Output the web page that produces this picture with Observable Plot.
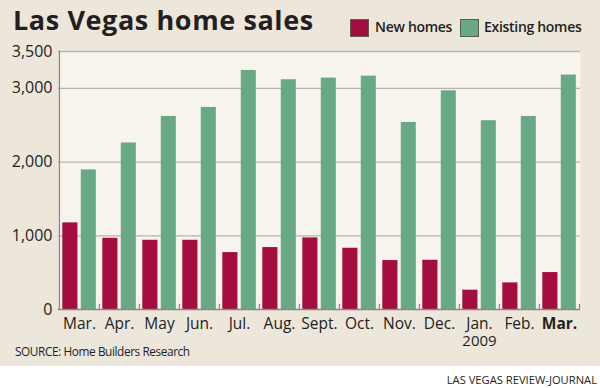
<!DOCTYPE html>
<html>
<head>
<meta charset="utf-8">
<script src="https://cdn.jsdelivr.net/npm/d3@7"></script>
<script src="https://cdn.jsdelivr.net/npm/@observablehq/plot@0.6"></script>
<style>
  html, body { margin: 0; padding: 0; background: #ffffff; }
  #wrap { position: relative; width: 600px; height: 388px; background: #ffffff; font-family: "Open Sans", sans-serif; color: #231f20; overflow: hidden; }
  #panel { position: absolute; left: 0; top: 0; width: 600px; height: 366px; background: #ece6db; }
  #title { position: absolute; left: 13px; top: 2px; font-size: 27px; font-weight: 700; letter-spacing: 0.6px; line-height: 36px; white-space: nowrap; }
  .sw { position: absolute; top: 19px; width: 17px; height: 16px; border: 1px solid #5d5a55; }
  .lab { position: absolute; top: 18px; font-size: 14px; font-weight: 600; letter-spacing: -0.3px; line-height: 18px; white-space: nowrap; }
  #chart { position: absolute; left: 0; top: 44px; }
  #source { position: absolute; left: 15px; top: 343px; font-size: 11.8px; letter-spacing: -0.4px; line-height: 16px; white-space: nowrap; }
  #credit { position: absolute; right: 3px; top: 372px; font-size: 11.2px; line-height: 16px; white-space: nowrap; }
</style>
</head>
<body>
<div id="wrap">
  <div id="panel"></div>
  <div id="title">Las Vegas home sales</div>
  <div id="legend"></div>
  <div id="chart"></div>
  <div id="source">SOURCE: Home Builders Research</div>
  <div id="credit">LAS VEGAS REVIEW-JOURNAL</div>
</div>
<script>
const months = ["Mar.", "Apr.", "May", "Jun.", "Jul.", "Aug.", "Sept.", "Oct.", "Nov.", "Dec.", "Jan.", "Feb.", "Mar."];
const years = ["", "", "", "", "", "", "", "", "", "", "2009", "", ""];
const newHomes = [1175, 966, 939, 939, 772, 840, 971, 831, 664, 668, 262, 361, 501];
const existingHomes = [1893, 2259, 2619, 2741, 3243, 3117, 3139, 3166, 2538, 2967, 2561, 2619, 3180];
const seriesNames = ["New homes", "Existing homes"];
const seriesColors = ["#a30d3f", "#68a884"];
const yTicks = [0, 1000, 2000, 3000, 3500];
const gridTicks = [1000, 2000, 3000];
const yMax = 3500;

const idx = months.map((_, i) => i);
const newData = idx.map(i => ({i, value: newHomes[i]}));
const existingData = idx.map(i => ({i, value: existingHomes[i]}));
const yearData = idx.filter(i => years[i]).map(i => ({i, year: years[i]}));

const W = 600, H = 300, mL = 58, mR = 20, mT = 7, mB = 35;
const step = (W - mL - mR) / months.length;
const gray = "#8c8780";

const legend = document.getElementById("legend");
const legendLeft = [[350, 375], [460, 484]];
seriesNames.forEach((name, k) => {
  const sw = document.createElement("span");
  sw.className = "sw";
  sw.style.background = seriesColors[k];
  sw.style.left = legendLeft[k][0] + "px";
  const lab = document.createElement("span");
  lab.className = "lab";
  lab.textContent = name;
  lab.style.left = legendLeft[k][1] + "px";
  legend.appendChild(sw);
  legend.appendChild(lab);
});

const chart = Plot.plot({
  width: W,
  height: H,
  marginLeft: mL,
  marginRight: mR,
  marginTop: mT,
  marginBottom: mB,
  style: {fontFamily: "Open Sans, sans-serif", fontSize: "16px", color: "#231f20", background: "transparent", overflow: "visible"},
  x: {type: "band", domain: idx, padding: 0},
  y: {domain: [0, yMax]},
  marks: [
    Plot.frame({fill: "#f7f4ee", stroke: "none"}),
    Plot.ruleY(gridTicks, {stroke: "#b9b4ab", strokeWidth: 1.3}),
    Plot.barY(newData, {x: "i", y: "value", fill: seriesColors[0], insetLeft: 3.3, insetRight: step - 18.6}),
    Plot.barY(existingData, {x: "i", y: "value", fill: seriesColors[1], insetLeft: 21.8, insetRight: 3.2}),
    Plot.ruleY([yMax], {stroke: "#b9b4ab", strokeWidth: 1.3}),
    Plot.ruleY([0], {stroke: gray, strokeWidth: 1.3}),
    Plot.ruleX([0], {x: d => d, dx: -step / 2, y1: 0, y2: yMax, stroke: gray, strokeWidth: 1.3}),
    Plot.ruleX(idx.slice(1), {x: d => d, dx: -step / 2, y1: 0, y2: 70, stroke: gray, strokeWidth: 1.3}),
    Plot.ruleX([idx[idx.length - 1]], {x: d => d, dx: step / 2, y1: 0, y2: 70, stroke: gray, strokeWidth: 1.3}),
    Plot.axisY({ticks: yTicks, tickFormat: d3.format(","), tickSize: 0, tickPadding: 6, label: null, fontSize: 16}),
    Plot.axisX({tickSize: 0, tickPadding: 8, label: null, fontSize: 15.5, tickFormat: i => months[i]}),
    Plot.text(yearData, {x: "i", text: "year", frameAnchor: "bottom", dy: 36.5, fontSize: 15, fill: "#231f20"})
  ]
});
const labels = chart.querySelectorAll('[aria-label="x-axis tick label"] text');
if (labels.length) labels[labels.length - 1].setAttribute("font-weight", "bold");
document.getElementById("chart").appendChild(chart);
</script>
</body>
</html>
